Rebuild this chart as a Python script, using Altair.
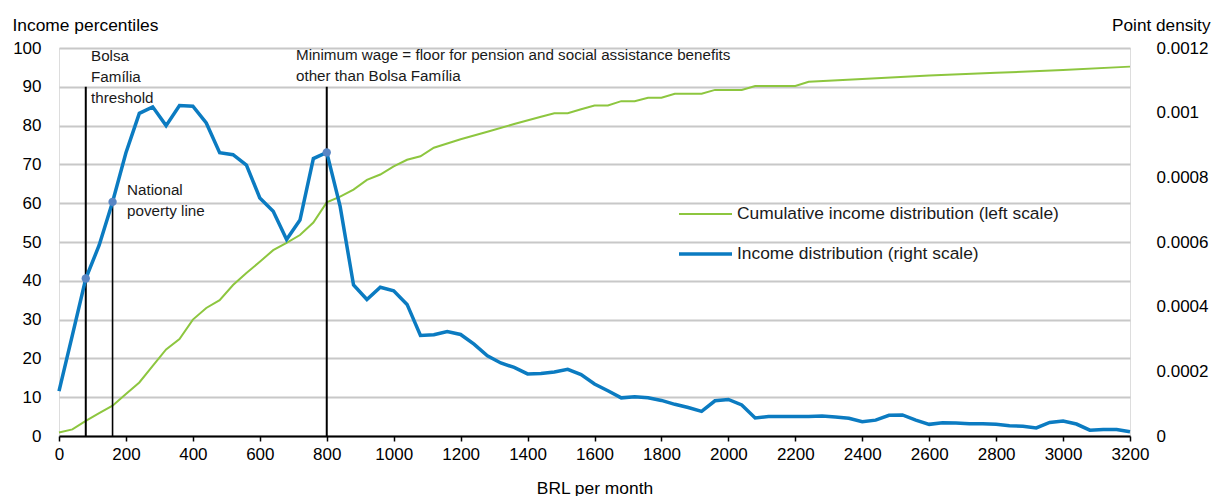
import altair as alt
import pandas as pd

FONT = "Liberation Sans, Arial, sans-serif"

# Income distribution (point density), sampled every 40 BRL
income = [
    0, 40, 80, 120, 160, 200, 240, 280, 320, 360, 400, 440, 480, 520, 560, 600,
    640, 680, 720, 760, 800, 840, 880, 920, 960, 1000, 1040, 1080, 1120, 1160,
    1200, 1240, 1280, 1320, 1360, 1400, 1440, 1480, 1520, 1560, 1600, 1640,
    1680, 1720, 1760, 1800, 1840, 1880, 1920, 1960, 2000, 2040, 2080, 2120,
    2160, 2200, 2240, 2280, 2320, 2360, 2400, 2440, 2480, 2520, 2560, 2600,
    2640, 2680, 2720, 2760, 2800, 2840, 2880, 2920, 2960, 3000, 3040, 3080,
    3120, 3160, 3200,
]
density = [
    0.000139, 0.000312, 0.000487, 0.000590, 0.000724, 0.000876, 0.000998,
    0.001018, 0.000960, 0.001022, 0.001020, 0.000968, 0.000876, 0.000870,
    0.000838, 0.000736, 0.000695, 0.000608, 0.000668, 0.000858, 0.000877,
    0.000710, 0.000467, 0.000422, 0.000460, 0.000449, 0.000407, 0.000311,
    0.000313, 0.000323, 0.000314, 0.000284, 0.000248, 0.000226, 0.000212,
    0.000192, 0.000193, 0.000198, 0.000206, 0.000190, 0.000161, 0.000140,
    0.000118, 0.000121, 0.000118, 0.000110, 0.000098, 0.000088, 0.000076,
    0.000109, 0.000113, 0.000096, 0.000056, 0.000060, 0.000060, 0.000060,
    0.000060, 0.000062, 0.000059, 0.000055, 0.000044, 0.000049, 0.000064,
    0.000065, 0.000049, 0.000036, 0.000041, 0.000040, 0.000038, 0.000038,
    0.000036, 0.000032, 0.000030, 0.000025, 0.000042, 0.000046, 0.000037,
    0.000018, 0.000020, 0.000020, 0.000013,
]

# Cumulative income distribution (percentiles)
cum_income = [
    0, 40, 80, 120, 160, 200, 240, 280, 320, 360, 400, 440, 480, 520, 560, 600,
    640, 680, 720, 760, 800, 840, 880, 920, 960, 1000, 1040, 1080, 1120, 1160,
    1200, 1280, 1360, 1440, 1480, 1520, 1560, 1600, 1640, 1680, 1720, 1760,
    1800, 1840, 1920, 1960, 2040, 2080, 2200, 2240, 2400, 2600, 2800, 3000, 3200,
]
cum_pct = [
    0.9, 1.7, 3.9, 5.9, 7.8, 10.8, 13.8, 18.1, 22.3, 25.0, 30.0, 33.0, 35.0,
    38.9, 42.0, 44.9, 47.9, 49.8, 51.8, 55.0, 60.2, 61.7, 63.5, 66.0, 67.4,
    69.5, 71.2, 72.1, 74.3, 75.4, 76.5, 78.4, 80.4, 82.3, 83.2, 83.2, 84.2,
    85.2, 85.2, 86.3, 86.3, 87.2, 87.2, 88.2, 88.2, 89.2, 89.2, 90.2, 90.2,
    91.3, 92.0, 92.9, 93.6, 94.3, 95.2,
]

# Policy thresholds (BRL per month)
thresholds = [80, 160, 800]
x_ticks = [0, 200, 400, 600, 800, 1000, 1200, 1400, 1600, 1800, 2000, 2200,
           2400, 2600, 2800, 3000, 3200]
pct_ticks = [0, 10, 20, 30, 40, 50, 60, 70, 80, 90, 100]
density_ticks = [0, 0.0002, 0.0004, 0.0006, 0.0008, 0.001, 0.0012]

BLUE = "#0B7BC1"
GREEN = "#8DC63F"
DOT = "#5A86C4"
INK = "#1a1a1a"

dens_df = pd.DataFrame({"income": income, "density": density})
cum_df = pd.DataFrame({"income": cum_income, "pct": cum_pct})
lookup = dict(zip(income, density))
marker_df = pd.DataFrame({"income": thresholds,
                          "density": [lookup[t] for t in thresholds]})
# Threshold rules: the poverty line stops at the curve, the others reach 90
rule_df = pd.DataFrame({
    "income": thresholds,
    "base": [0, 0, 0],
    "top": [0.00108, lookup[160], 0.00108],
    "w": [2, 1.6, 2],
})

x_enc = alt.X(
    "income:Q",
    scale=alt.Scale(domain=[0, 3200], nice=False),
    axis=alt.Axis(
        values=x_ticks, format="d", title="BRL per month", grid=False,
        domainColor="black", domainWidth=2, tickColor="black", tickSize=5,
        tickWidth=1.5, labelFontSize=17, labelPadding=5, labelFlush=False,
        labelOverlap=False, titleFontSize=17.4, titleFontWeight="normal",
        titleY=57, titleBaseline="alphabetic",
    ),
)

left_axis = alt.Axis(
    orient="left", values=pct_ticks, title="Income percentiles",
    titleAngle=0, titleAlign="left", titleBaseline="alphabetic",
    titleX=-47, titleY=-18, titleFontSize=17.4, titleFontWeight="normal",
    domain=False, ticks=False, grid=True, gridColor="#C8C8C8", gridWidth=2,
    labelPadding=18, labelFontSize=17,
)
right_axis = alt.Axis(
    orient="right", values=density_ticks, format="~g", title="Point density",
    titleAngle=0, titleAlign="right", titleBaseline="alphabetic",
    titleX=80, titleY=-18, titleFontSize=17.2, titleFontWeight="normal",
    domain=False, ticks=False, grid=False, labelPadding=26, labelFontSize=17,
)

cum_line = alt.Chart(cum_df).mark_line(color=GREEN, strokeWidth=2).encode(
    x=x_enc,
    y=alt.Y("pct:Q", scale=alt.Scale(domain=[0, 100], nice=False), axis=left_axis),
)

dens_y = alt.Y("density:Q", scale=alt.Scale(domain=[0, 0.0012], nice=False),
               axis=right_axis)

rules = alt.Chart(rule_df).mark_rule(color="black").encode(
    x="income:Q",
    y=alt.Y("base:Q"),
    y2="top:Q",
    strokeWidth=alt.StrokeWidth("w:Q", scale=None),
)
dens_line = alt.Chart(dens_df).mark_line(color=BLUE, strokeWidth=3.5).encode(
    x="income:Q", y=dens_y,
)
markers = alt.Chart(marker_df).mark_circle(color=DOT, size=70, opacity=1).encode(
    x="income:Q", y="density:Q",
)

one = pd.DataFrame({"k": [0]})


def label(lines, px, py, size=15.2, line_height=20.5):
    return alt.Chart(one).mark_text(
        text=lines, align="left", baseline="alphabetic", fontSize=size,
        lineHeight=line_height, font=FONT, color=INK,
    ).encode(x=alt.value(px), y=alt.value(py))


def legend_key(color, width, py):
    return alt.Chart(one).mark_rule(color=color, strokeWidth=width).encode(
        x=alt.value(620), x2=alt.value(673), y=alt.value(py)
    )


def legend_text(txt, py):
    return alt.Chart(one).mark_text(
        text=txt, align="left", baseline="middle", fontSize=17.4, font=FONT,
        color=INK,
    ).encode(x=alt.value(678), y=alt.value(py))


left_layer = alt.layer(cum_line)
right_layer = alt.layer(rules, dens_line, markers)

annotations = alt.layer(
    label(["Bolsa", "Família", "threshold"], 32, 13, line_height=21),
    label(["National", "poverty line"], 68, 147),
    label(["Minimum wage = floor for pension and social assistance benefits",
           "other than Bolsa Família"], 237, 12),
    legend_key(GREEN, 2, 166),
    legend_text("Cumulative income distribution (left scale)", 166),
    legend_key(BLUE, 3.5, 206),
    legend_text("Income distribution (right scale)", 206),
)

chart = alt.layer(left_layer, right_layer, annotations).resolve_scale(
    y="independent"
).properties(
    width=1071, height=388,
    autosize=alt.AutoSizeParams(type="none"),
    padding={"left": 59, "top": 48, "right": 83, "bottom": 60},
).configure_view(stroke=None).configure_axis(
    labelFont=FONT, titleFont=FONT, labelColor=INK, titleColor=INK,
).configure(background="white")

chart.save("out.html", embed_options={"renderer": "svg", "actions": False})
